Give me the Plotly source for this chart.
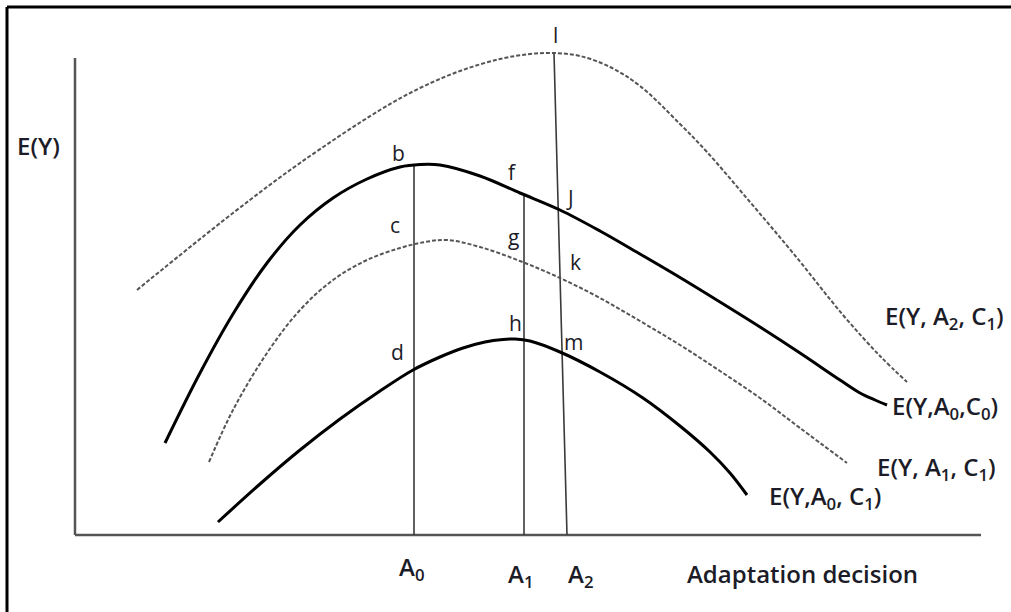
import plotly.graph_objects as go

# Coordinates: horizontal = adaptation decision, vertical = E(Y); origin at axes corner
# Curve E(Y, A2, C1) - dashed, top
c_a2c1_x = [62, 158, 225, 305, 345, 385, 425, 455, 479, 505, 535, 565, 605, 632, 675, 718, 768, 805, 832]
c_a2c1_y = [245, 322, 372, 425, 447, 464, 476, 481, 482, 479, 468, 449, 411, 383, 333, 282, 220, 179, 153]
# Curve E(Y, A0, C0) - solid
c_a0c0_x = [90, 125, 158, 192, 225, 258, 292, 325, 345, 365, 405, 445, 485, 525, 565, 605, 645, 685,
            725, 765, 785, 800, 812]
c_a0c0_y = [92, 162, 221, 272, 310, 337, 356, 368, 370.5, 370, 359, 342, 325, 304, 281, 257.5, 233, 208,
            182, 155, 142, 135, 130]
# Curve E(Y, A1, C1) - dashed
c_a1c1_x = [134, 158, 192, 225, 258, 292, 325, 350, 372, 405, 445, 485, 525, 565, 605, 645, 685, 725, 772]
c_a1c1_y = [73, 125, 182, 225, 255, 275, 287, 293, 295, 288, 274, 257, 237, 214, 190, 164, 137, 107, 72]
# Curve E(Y, A0, C1) - solid, bottom
c_a0c1_x = [143, 185, 225, 265, 305, 338, 365, 388, 410, 428, 440, 455, 485, 525, 568, 605, 635, 655, 672]
c_a0c1_y = [13, 51, 85, 116, 144, 165, 178, 187, 193, 195.5, 196, 194, 183, 163, 137, 109, 83, 62, 40]

curve_names = ["E(Y, A<sub>2</sub>, C<sub>1</sub>)", "E(Y,A<sub>0</sub>,C<sub>0</sub>)",
               "E(Y, A<sub>1</sub>, C<sub>1</sub>)", "E(Y,A<sub>0</sub>, C<sub>1</sub>)"]
curve_label_x = [808, 815, 800, 692]
curve_label_y = [218, 128, 67, 38]

# Axes extents
yaxis_x = [0, 0]
yaxis_y = [0, 477]
xaxis_x = [0, 906]
xaxis_y = [0, 0]

# Adaptation levels (vertical guide lines)
a0_x = [339, 339]
a0_y = [0, 370]
a1_x = [449, 449]
a1_y = [0, 340]
a2_x = [479, 492]
a2_y = [482, 0]

tick_pos = [336, 445, 505]
tick_text = ["A<sub>0</sub>", "A<sub>1</sub>", "A<sub>2</sub>"]
tick_yshift = [-33, -40, -40]

point_labels = ["l", "b", "f", "J", "c", "g", "k", "h", "d", "m"]
point_x = [480, 323, 437, 495, 320, 438, 500, 440, 322, 498]
point_y = [500, 382, 363, 337, 310, 298, 273, 212, 183, 193]

FONT = "Open Sans"
TXT = "#1c1c28"
LSIZE = 24

fig = go.Figure()

def add_line(x, y, color, width, dash="solid", shape="linear"):
    fig.add_trace(go.Scatter(x=x, y=y, mode="lines", hoverinfo="skip", showlegend=False,
                             line=dict(color=color, width=width, dash=dash, shape=shape,
                                       smoothing=1.0)))

add_line(yaxis_x, yaxis_y, "#555555", 2.5)
add_line(xaxis_x, xaxis_y, "#555555", 2.5)
add_line(a0_x, a0_y, "#3a3a3a", 1.6)
add_line(a1_x, a1_y, "#3a3a3a", 1.6)
add_line(a2_x, a2_y, "#3a3a3a", 1.6)

add_line(c_a2c1_x, c_a2c1_y, "#555555", 2, dash="4px,2px", shape="spline")
add_line(c_a0c0_x, c_a0c0_y, "#000000", 3, shape="spline")
add_line(c_a1c1_x, c_a1c1_y, "#555555", 2, dash="4px,2px", shape="spline")
add_line(c_a0c1_x, c_a0c1_y, "#000000", 3, shape="spline")

anns = []
for t, x, y in zip(curve_names, curve_label_x, curve_label_y):
    anns.append(dict(x=x, y=y, text=t, showarrow=False, xanchor="left", yanchor="middle",
                     font=dict(family=FONT, size=LSIZE, color=TXT, weight=600)))
for t, x, s in zip(tick_text, tick_pos, tick_yshift):
    anns.append(dict(x=x, y=0, text=t, showarrow=False, xanchor="center", yanchor="middle",
                     yshift=s, font=dict(family=FONT, size=LSIZE, color=TXT, weight=600)))
anns.append(dict(x=610, y=0, text="Adaptation decision", showarrow=False, xanchor="left",
                 yanchor="middle", yshift=-38,
                 font=dict(family=FONT, size=LSIZE, color=TXT, weight=600)))
anns.append(dict(x=-60, y=390, text="E(Y)", showarrow=False, xanchor="left", yanchor="middle",
                 font=dict(family=FONT, size=LSIZE, color=TXT, weight=600)))
for t, x, y in zip(point_labels, point_x, point_y):
    anns.append(dict(x=x, y=y, text=t, showarrow=False, xanchor="center", yanchor="middle",
                     font=dict(family=FONT, size=21, color=TXT)))

fig.update_layout(
    width=1011, height=612,
    margin=dict(l=0, r=0, t=0, b=0),
    paper_bgcolor="white", plot_bgcolor="white",
    xaxis=dict(range=[-75, 936], visible=False, fixedrange=True),
    yaxis=dict(range=[-77, 535], visible=False, fixedrange=True),
    annotations=anns,
    shapes=[
        dict(type="line", xref="paper", yref="paper", x0=7/1011, x1=7/1011, y0=0, y1=1-7/612,
             line=dict(color="black", width=3)),
        dict(type="line", xref="paper", yref="paper", x0=7/1011, x1=1, y0=1-7/612, y1=1-7/612,
             line=dict(color="black", width=3)),
    ],
)

fig.write_html("out.html", config={"displayModeBar": False},
               post_script="document.body.style.margin='0';document.body.style.overflow='hidden';")
